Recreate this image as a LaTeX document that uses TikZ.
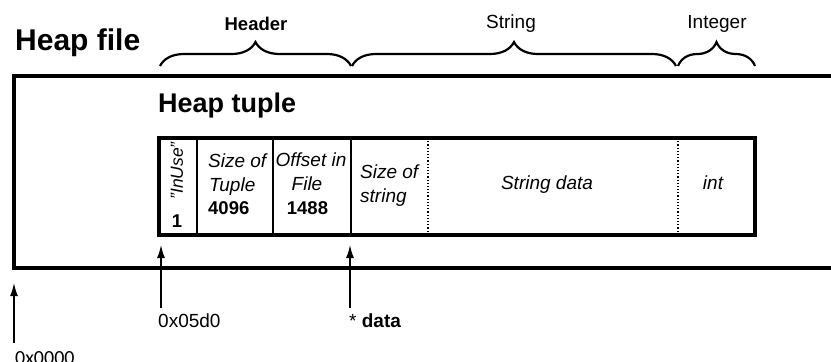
\documentclass[tikz,border=0pt]{standalone}
\usepackage{fontspec}
\setmainfont{Liberation Sans}
\newfontfamily\calfont{Carlito}
\usetikzlibrary{decorations.pathreplacing,arrows.meta}
\tikzset{
  thickbox/.style={line width=3.2bp},
  divider/.style={line width=2.8bp},
  dotdiv/.style={line width=1.2bp, dotted},
  bracestyle/.style={line width=2.2bp, decorate, decoration={brace, amplitude=24bp}},
  ptr/.style={line width=1.6bp, -{Latex[length=13bp,width=8bp]}},
  txt/.style={inner sep=0pt, font=\fontsize{19bp}{22bp}\selectfont},
  itxt/.style={inner sep=0pt, font=\fontsize{19bp}{22bp}\selectfont\itshape},
  btxt/.style={inner sep=0pt, font=\fontsize{18.5bp}{22bp}\selectfont\bfseries},
}
\begin{document}
\begin{tikzpicture}[x=1bp,y=-1bp]
\useasboundingbox (0,0) rectangle (831,361);
% outer heap file box (open to the right)
\draw[thickbox] (831,76) -- (14,76) -- (14,268) -- (831,268);
\node[anchor=base west, inner sep=0pt, font=\fontsize{30bp}{34bp}\selectfont\bfseries] (hf) at (15,50) {Heap file};
\node[anchor=base west, inner sep=0pt, font=\fontsize{27bp}{30bp}\selectfont\bfseries] (ht) at (158,112) {Heap tuple};
% tuple box
\draw[thickbox] (159,138) rectangle (755,235);
\draw[divider] (197,138) -- (197,235);
\draw[divider] (273,138) -- (273,235);
\draw[divider] (351,138) -- (351,235);
\draw[dotdiv] (428,138) -- (428,235);
\draw[dotdiv] (678,138) -- (678,235);
% cell texts
\node[inner sep=0pt, rotate=90, font=\fontsize{17.5bp}{20bp}\selectfont\itshape] (inuse) at (177,171) {"InUse"};
\node[btxt] (one) at (177,221) {1};
\node[itxt, anchor=base west] (sz1) at (208,167) {Size of};
\node[itxt, anchor=base west] (sz2) at (209,191) {Tuple};
\node[btxt, anchor=base west] (sz3) at (208,214) {4096};
\node[itxt, anchor=base] (of1) at (311,166) {Offset in};
\node[itxt, anchor=base] (of2) at (307,190) {File};
\node[btxt, anchor=base] (of3) at (307.5,214) {1488};
\node[itxt, anchor=base west] (ss1) at (360,178) {Size of};
\node[itxt, anchor=base west] (ss2) at (360,202) {string};
\node[itxt, anchor=base] (sd) at (547,189) {String data};
\node[itxt, anchor=base] (int) at (713,189) {int};
% braces
\coordinate (b1) at (160,66); \coordinate (b2) at (351,66);
\coordinate (b3) at (352,66); \coordinate (b4) at (676,66);
\coordinate (b5) at (678,66); \coordinate (b6) at (755,66);
\draw[bracestyle] (b1) -- (b2);
\draw[bracestyle] (b3) -- (b4);
\draw[bracestyle] (b5) -- (b6);
\node[btxt, anchor=base] (hdr) at (256,30) {Header};
\node[txt, anchor=base] (str) at (511,28) {String};
\node[txt, anchor=base] (intg) at (717,28) {Integer};
% pointers
\coordinate (p0) at (14,283); \coordinate (t0) at (14,343);
\coordinate (p1) at (161,245); \coordinate (t1) at (161,308);
\coordinate (p2) at (350,245); \coordinate (t2) at (350,308);
\draw[ptr] (t0) -- (p0);
\draw[ptr] (t1) -- (p1);
\draw[ptr] (t2) -- (p2);
\node[anchor=base west, inner sep=0pt, font=\calfont\fontsize{20bp}{22bp}\selectfont] (l0) at (15,364) {0x0000};
\node[txt, anchor=base west] (l1) at (158,327) {0x05d0};
\node[txt, anchor=base west] (l2) at (349,327) {* \textbf{data}};
\end{tikzpicture}
\end{document}
